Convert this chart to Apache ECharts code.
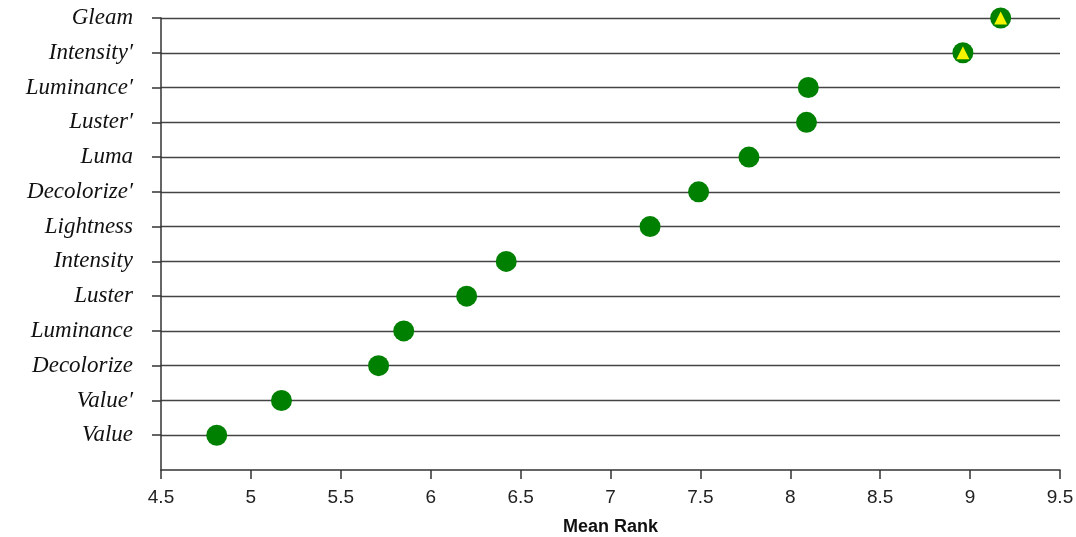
<!DOCTYPE html>
<html><head><meta charset="utf-8">
<script src="https://cdn.jsdelivr.net/npm/echarts@6/dist/echarts.min.js"></script>
<style>html,body{margin:0;padding:0;background:#fff}#c{width:1076px;height:537px}</style>
</head><body><div id="c"></div>
<script>
// categories bottom to top
const categories = ['Value','Value\u2032','Decolorize','Luminance','Luster','Intensity','Lightness','Decolorize\u2032','Luma','Luster\u2032','Luminance\u2032','Intensity\u2032','Gleam'];
const meanRank = [4.81, 5.17, 5.71, 5.85, 6.20, 6.42, 7.22, 7.49, 7.77, 8.09, 8.10, 8.96, 9.17];
const highlighted = ['Intensity\u2032','Gleam'];
const xTicks = [4.5,5,5.5,6,6.5,7,7.5,8,8.5,9,9.5];

const pts = categories.map((c,i)=>[meanRank[i], i+1]);
const hiPts = categories.map((c,i)=>highlighted.includes(c)?[meanRank[i], i+1]:null).filter(Boolean);
const yPos = categories.map((c,i)=>i+1);

const chart = echarts.init(document.getElementById('c'));
chart.setOption({
  animation:false,
  grid:{left:161, right:16, top:18, bottom:67, containLabel:false, outerBoundsMode:'none'},
  xAxis:{type:'value', min:xTicks[0], max:xTicks[xTicks.length-1], interval:0.5,
    name:'Mean Rank', nameLocation:'middle', nameGap:48,
    nameTextStyle:{fontFamily:'Liberation Sans', fontWeight:'bold', fontSize:18, color:'#111'},
    axisLine:{lineStyle:{color:'#333', width:1.5}},
    axisTick:{length:9, lineStyle:{color:'#333', width:1.5}},
    axisLabel:{fontFamily:'Liberation Sans', fontSize:19, color:'#222', margin:18,
      formatter:v=>String(+v.toFixed(1))},
    splitLine:{show:false}},
  yAxis:{type:'value', min:0, max:13, interval:1,
    axisLine:{show:true, lineStyle:{color:'#333', width:1.5}},
    axisTick:{show:true, length:9, customValues:yPos, lineStyle:{color:'#333', width:1.5}},
    axisLabel:{fontFamily:'Liberation Serif', fontStyle:'italic', fontSize:23, color:'#111', margin:28,
      customValues:yPos,
      formatter:v=>(v>=1 && v<=13)?categories[Math.round(v)-1]:''},
    splitLine:{show:true, lineStyle:{color:'#444', width:1.4}}},
  series:[
    {type:'scatter', data:pts, symbol:'circle', symbolSize:21, itemStyle:{color:'#008000', opacity:1}, z:3},
    {type:'scatter', data:hiPts, symbol:'triangle', symbolSize:13, itemStyle:{color:'#f5f500', opacity:1}, z:4}
  ]
});
</script></body></html>
